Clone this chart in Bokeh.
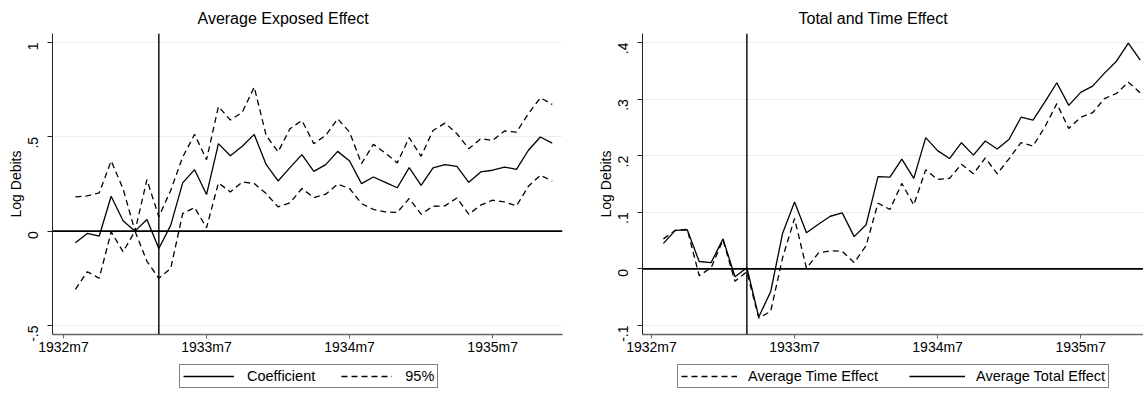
import math
from bokeh.plotting import figure
from bokeh.models import Range1d, FixedTicker, Span, Legend, LegendItem
from bokeh.layouts import row, column
from bokeh.embed import file_html
from bokeh.resources import INLINE

# x positions: months since 1932m7 (1 = 1932m8 ... 41 = 1935m12)
months = list(range(1, 42))
x_tick_pos = [0, 12, 24, 36]
x_tick_labels = ["1932m7", "1933m7", "1934m7", "1935m7"]
event_month = 8  # 1933m3

# Left panel: Average Exposed Effect
coef = [-0.062, -0.012, -0.026, 0.185, 0.055, 0.0, 0.062, -0.092, 0.032, 0.256,
        0.326, 0.194, 0.464, 0.400, 0.450, 0.513, 0.354, 0.266, 0.337, 0.406,
        0.317, 0.353, 0.423, 0.372, 0.252, 0.287, 0.259, 0.230, 0.337, 0.243,
        0.335, 0.353, 0.344, 0.259, 0.314, 0.323, 0.340, 0.328, 0.429, 0.499, 0.467]
ci_upper = [0.182, 0.187, 0.203, 0.372, 0.225, 0.0, 0.273, 0.076, 0.217, 0.393,
            0.513, 0.379, 0.661, 0.589, 0.631, 0.764, 0.508, 0.420, 0.543, 0.587,
            0.464, 0.508, 0.596, 0.525, 0.358, 0.460, 0.414, 0.362, 0.496, 0.397,
            0.534, 0.573, 0.517, 0.437, 0.490, 0.481, 0.531, 0.525, 0.623, 0.707, 0.672]
ci_lower = [-0.309, -0.215, -0.250, -0.004, -0.109, 0.0, -0.160, -0.250, -0.197, 0.093,
            0.125, 0.018, 0.256, 0.208, 0.261, 0.252, 0.199, 0.129, 0.150, 0.226,
            0.178, 0.196, 0.249, 0.226, 0.146, 0.115, 0.102, 0.099, 0.173, 0.090,
            0.132, 0.134, 0.176, 0.090, 0.138, 0.164, 0.155, 0.134, 0.238, 0.296, 0.266]
left_yticks = [-0.5, 0, 0.5, 1]
left_ylabels = ["-.5", "0", ".5", "1"]

# Right panel: Total and Time Effect
time_effect = [0.053, 0.068, 0.070, -0.012, 0.002, 0.051, -0.022, -0.005, -0.087, -0.075,
               0.020, 0.089, 0.001, 0.028, 0.032, 0.031, 0.011, 0.041, 0.116, 0.105,
               0.151, 0.113, 0.175, 0.158, 0.160, 0.185, 0.168, 0.196, 0.168, 0.195,
               0.223, 0.217, 0.251, 0.292, 0.248, 0.268, 0.276, 0.301, 0.310, 0.330, 0.311]
total_effect = [0.045, 0.068, 0.069, 0.013, 0.011, 0.053, -0.014, 0.002, -0.085, -0.040,
                0.063, 0.118, 0.064, 0.079, 0.093, 0.099, 0.057, 0.078, 0.163, 0.162,
                0.194, 0.160, 0.232, 0.209, 0.195, 0.223, 0.201, 0.226, 0.212, 0.229,
                0.268, 0.263, 0.295, 0.329, 0.289, 0.312, 0.323, 0.346, 0.367, 0.399, 0.369]
right_yticks = [-0.1, 0, 0.1, 0.2, 0.3, 0.4]
right_ylabels = ["-.1", "0", ".1", ".2", ".3", ".4"]

FONT = "Liberation Sans"
DASH = "6 4"
MAIN_H = 362
LEG_H = 41


def make_fig(title, width, min_left, min_right, xr, yr, yticks, ylabels, title_offset):
    p = figure(width=width, height=MAIN_H, x_range=Range1d(*xr), y_range=Range1d(*yr),
               output_backend="svg", toolbar_location=None,
               min_border_left=min_left, min_border_right=min_right,
               min_border_top=33, min_border_bottom=28)
    p.title.text = title
    p.title.text_font = FONT
    p.title.text_font_size = "16px"
    p.title.text_font_style = "normal"
    p.title.text_color = "black"
    p.title.align = "left"
    p.title.offset = title_offset
    p.title.standoff = 14
    p.outline_line_color = None
    p.background_fill_color = "white"
    p.border_fill_color = "white"

    p.xaxis.ticker = FixedTicker(ticks=x_tick_pos)
    p.xaxis.major_label_overrides = dict(zip(x_tick_pos, x_tick_labels))
    p.yaxis.ticker = FixedTicker(ticks=yticks)
    p.yaxis.major_label_overrides = dict(zip(yticks, ylabels))
    p.yaxis.major_label_orientation = math.pi / 2
    p.yaxis.axis_label = "Log Debits"
    p.yaxis.axis_label_text_font = FONT
    p.yaxis.axis_label_text_font_size = "14px"
    p.yaxis.axis_label_text_font_style = "normal"
    p.yaxis.axis_label_text_color = "black"
    p.yaxis.axis_label_standoff = -3
    for ax in (p.xaxis, p.yaxis):
        ax.major_label_text_font = FONT
        ax.major_label_text_font_size = "14px"
        ax.major_label_text_color = "black"
        ax.major_tick_in = 0
        ax.minor_tick_in = 0
        ax.minor_tick_out = 0
    p.xaxis.major_tick_out = 4
    p.xaxis.major_label_standoff = 0
    p.yaxis.major_tick_out = 5
    p.yaxis.major_label_standoff = 14
    p.yaxis.axis_line_color = "#222222"
    p.yaxis.major_tick_line_color = "#222222"
    p.xaxis.axis_line_color = "#666666"
    p.xaxis.axis_line_width = 1.5
    p.xaxis.major_tick_line_color = "#666666"

    p.xgrid.visible = False
    p.ygrid.ticker = FixedTicker(ticks=yticks)
    p.ygrid.grid_line_color = "#E6EFF1"
    p.ygrid.grid_line_width = 1

    p.add_layout(Span(location=0, dimension="width", line_color="black", line_width=1.6))
    p.add_layout(Span(location=event_month, dimension="height", line_color="black", line_width=1.4))
    return p


def legend_fig(width, specs, loc, glyph_w, standoff, spacing):
    # Separate strip under each chart holding its legend; the key lines reuse the
    # series, drawn outside this strip's visible range so only the legend shows.
    lf = figure(width=width, height=LEG_H, output_backend="svg", toolbar_location=None,
                x_axis_location=None, y_axis_location=None, title=None,
                x_range=Range1d(100, 101), y_range=Range1d(100, 101), min_border=0)
    lf.grid.visible = False
    lf.outline_line_color = None
    lf.background_fill_color = "white"
    lf.border_fill_color = "white"
    items = []
    for label, series, dash in specs:
        r = lf.line(months, series, line_color="black", line_width=1.3, line_dash=dash)
        items.append(LegendItem(label=label, renderers=[r]))
    leg = Legend(items=items, location=loc, orientation="horizontal")
    leg.border_line_color = "black"
    leg.border_line_width = 1
    leg.label_text_font = FONT
    leg.label_text_font_size = "14.5px"
    leg.label_text_color = "black"
    leg.glyph_width = glyph_w
    leg.glyph_height = 12
    leg.label_height = 12
    leg.label_standoff = standoff
    leg.spacing = spacing
    leg.padding = 3
    leg.margin = 0
    leg.background_fill_alpha = 1
    lf.add_layout(leg)
    return lf


# Left figure
p1 = make_fig("Average Exposed Effect", 580, 52, 18, (-0.92, 41.86), (-0.548, 1.048),
              left_yticks, left_ylabels, 145)
p1.line(months, coef, line_color="black", line_width=1.3)
p1.line(months, ci_upper, line_color="black", line_width=1.3, line_dash=DASH)
p1.line(months, ci_lower, line_color="black", line_width=1.3, line_dash=DASH)
l1 = legend_fig(580, [("Coefficient", coef, "solid"), ("95%", ci_upper, DASH)],
                (179, 15), 51, 13, 26)

# Right figure
p2 = make_fig("Total and Time Effect", 563, 62, 0, (-0.755, 41.27), (-0.116, 0.416),
              right_yticks, right_ylabels, 156)
p2.line(months, time_effect, line_color="black", line_width=1.3, line_dash=DASH)
p2.line(months, total_effect, line_color="black", line_width=1.3)
l2 = legend_fig(563, [("Average Time Effect", time_effect, DASH),
                      ("Average Total Effect", total_effect, "solid")],
                (97, 15), 56, 11, 31)

layout = column(row(p1, p2), row(l1, l2))
open("out.html", "w").write(file_html(layout, INLINE))
